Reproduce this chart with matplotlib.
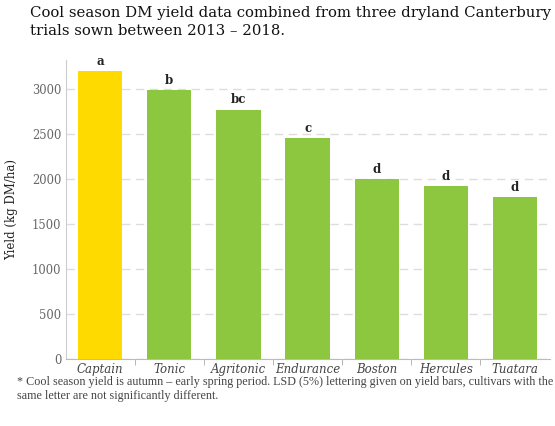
import matplotlib
matplotlib.use("Agg")
import matplotlib.pyplot as plt
import numpy as np

cultivars = ["Captain", "Tonic", "Agritonic", "Endurance", "Boston", "Hercules", "Tuatara"]
yields = [3200, 2990, 2775, 2460, 2000, 1925, 1800]
letters = ["a", "b", "bc", "c", "d", "d", "d"]
yticks = [0, 500, 1000, 1500, 2000, 2500, 3000]

yellow = "#FFDA00"
green = "#8DC63F"
colors = [yellow] + [green] * (len(cultivars) - 1)

W, H = 555, 426
fig = plt.figure(figsize=(W / 100, H / 100), dpi=100)
left, right, bottom, top = 65.7, 549.5, 359.3, 60
ax = fig.add_axes([left / W, 1 - bottom / H, (right - left) / W, (bottom - top) / H])

x = np.arange(len(cultivars))
ax.bar(x, yields, width=0.64, color=colors, zorder=3)
for xi, yi, lab in zip(x, yields, letters):
    ax.text(xi, yi + 35, lab, ha="center", va="bottom", fontsize=8.5,
            family="DejaVu Serif", weight="semibold", color="#222222", zorder=4)

ax.set_xlim(-0.5, len(cultivars) - 0.5)
ax.set_ylim(0, 3326)
ax.set_yticks(yticks)
ax.set_yticklabels([str(v) for v in yticks], family="DejaVu Serif", fontsize=8.3, color="#666666")
ax.set_xticks(x)
ax.set_xticklabels(cultivars, family="DejaVu Serif", style="italic", fontsize=8.5, color="#444444")
ax.set_xticks(np.arange(0.5, len(cultivars) - 1, 1), minor=True)
ax.tick_params(axis="x", which="major", length=0, pad=3)
ax.tick_params(axis="x", which="minor", length=4, color="#aaaaaa", direction="out")
ax.tick_params(axis="y", length=0, pad=3)

ax.yaxis.grid(True, linestyle=(0, (6, 4)), color="#dddddd", linewidth=1, zorder=0)
for s in ["top", "right"]:
    ax.spines[s].set_visible(False)
ax.spines["left"].set_color("#cccccc")
ax.spines["bottom"].set_color("#bbbbbb")

ax.set_ylabel("Yield (kg DM/ha)", family="DejaVu Serif", fontsize=8.5, color="#222222", labelpad=10)

fig.text(30 / W, 1 - 6 / H, "Cool season DM yield data combined from three dryland Canterbury\ntrials sown between 2013 \u2013 2018.",
         ha="left", va="top", family="DejaVu Serif", fontsize=10.7, color="#111111", linespacing=1.4)
fig.text(17 / W, 1 - 376 / H,
         "* Cool season yield is autumn \u2013 early spring period. LSD (5%) lettering given on yield bars, cultivars with the\nsame letter are not significantly different.",
         ha="left", va="top", family="Liberation Serif", fontsize=8.7, color="#444444", linespacing=1.25)

fig.savefig("out.png", dpi=100)
